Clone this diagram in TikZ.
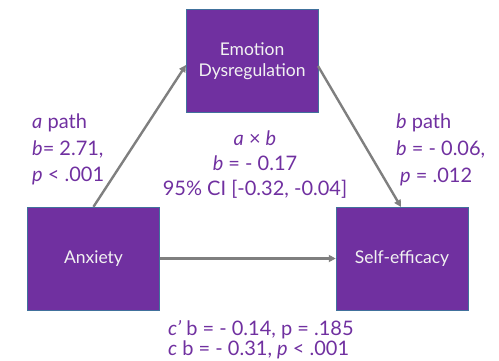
\documentclass[tikz,border=0pt]{standalone}
\usepackage{fontspec}
\setmainfont{Lato}
\usetikzlibrary{arrows.meta}
\definecolor{boxpurple}{HTML}{7030A0}
\definecolor{txtpurple}{HTML}{7030A0}
\definecolor{boxedge}{HTML}{41719C}
\definecolor{arrowgray}{HTML}{7F7F7F}
\definecolor{boxtext}{HTML}{F2F2F2}
\tikzset{
  varbox/.style={draw=boxedge, line width=0.5pt, fill=boxpurple, text=boxtext,
    minimum width=132pt, minimum height=103pt, inner sep=0pt, align=center,
    font=\fontsize{17.5}{21}\selectfont},
  conn/.style={draw=arrowgray, line width=2.4pt, -{Triangle[length=7pt,width=7pt]}},
  lbl/.style={text=txtpurple, inner sep=0pt, font=\fontsize{20}{24}\selectfont},
  lblL/.style={lbl, anchor=base west},
  lblC/.style={lbl, anchor=base}
}
\begin{document}
\begin{tikzpicture}[x=1pt,y=-1pt]
\useasboundingbox (0,0) rectangle (499,360);
\node[varbox] (emo) at (252,61) {Emotion\\Dysregulation};
\node[varbox] (anx) at (93.5,258.5) {Anxiety};
\node[varbox] (self) at (402,258.5) {Self-efficacy};
\coordinate (aend) at (186,65);
\coordinate (bstart) at (318,66);
\coordinate (bend) at (401,207);
\draw[conn] (anx.north) -- (aend);
\draw[conn] (bstart) -- (bend);
\draw[conn] (anx.east) -- (self.west);
\node[lblL] (a1) at (32,128) {\textit{a} path};
\node[lblL] (a2) at (32,155) {\textit{b}= 2.71,};
\node[lblL] (a3) at (32,181) {\textit{p} < .001};
\node[lblC] (m1) at (255,145) {\textit{a} × \textit{b}};
\node[lblC] (m2) at (255,170) {\textit{b} = - 0.17};
\node[lblC] (m3) at (255,195) {95\% CI [-0.32, -0.04]};
\node[lblL] (b1) at (396,128) {\textit{b} path};
\node[lblL] (b2) at (396,155) {\textit{b} = - 0.06,};
\node[lblL] (b3) at (400,182) {\textit{p} = .012};
\node[lblL] (c1) at (168,335) {\textit{c’} b = - 0.14, p = .185};
\node[lblL] (c2) at (168,355) {\textit{c} b = - 0.31, \textit{p} < .001};
\end{tikzpicture}
\end{document}
